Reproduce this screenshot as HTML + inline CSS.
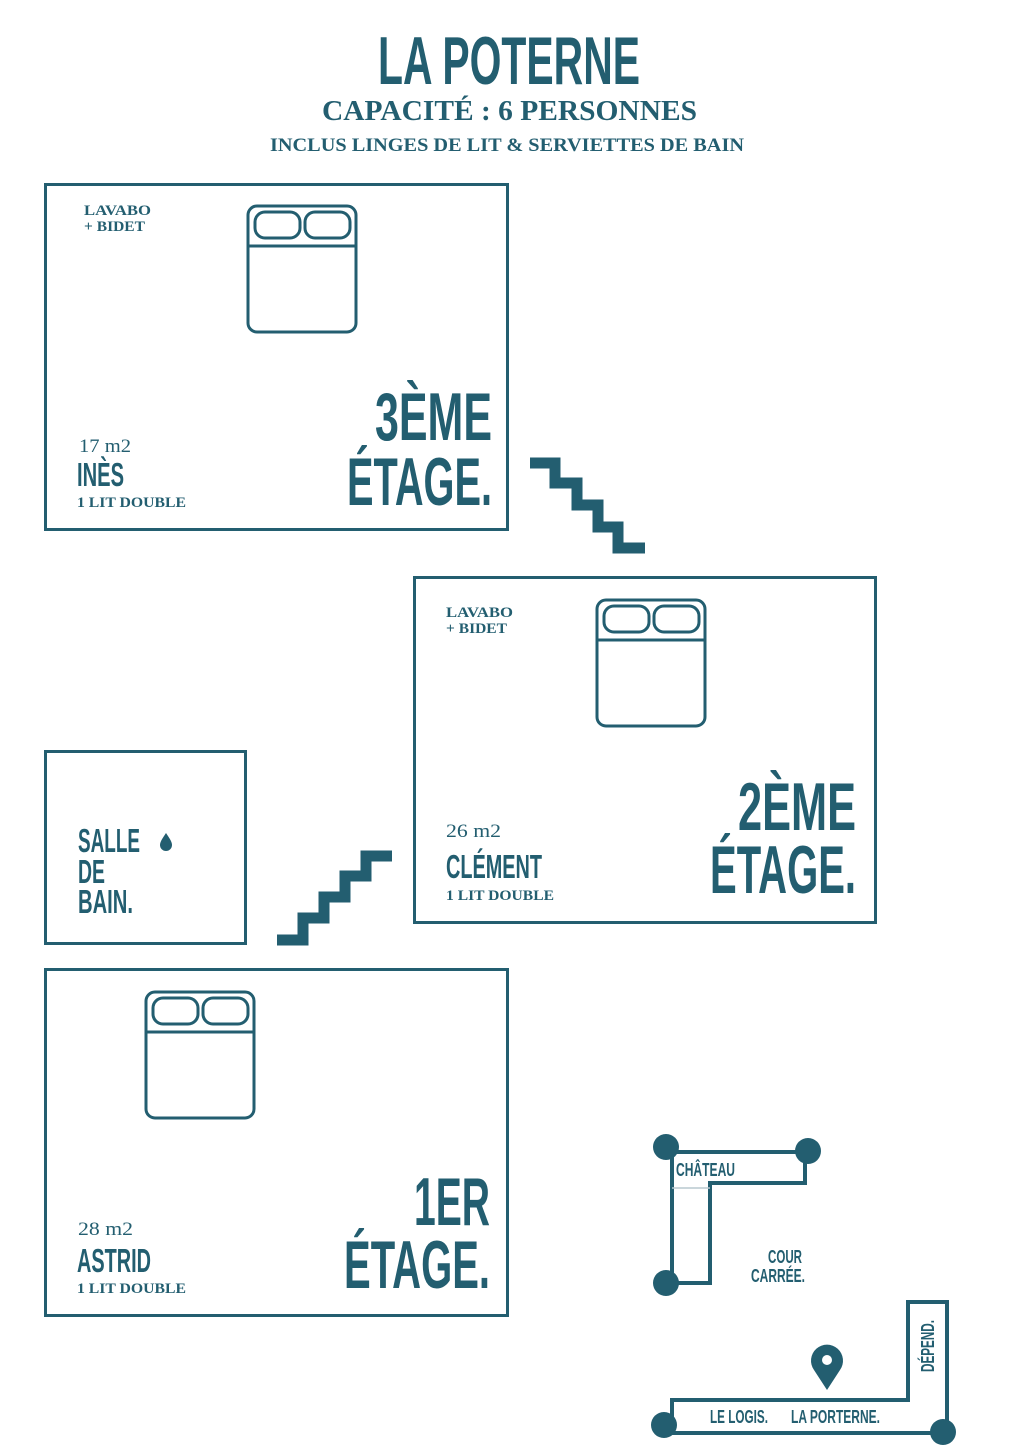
<!DOCTYPE html>
<html><head><meta charset="utf-8"><style>
html,body{margin:0;padding:0;background:#fff}
svg{display:block}
.c{font-family:"Liberation Sans Narrow","Liberation Sans",sans-serif;font-weight:bold;fill:#235e70}
.s{font-family:"Liberation Serif",serif;font-weight:bold;fill:#235e70}
.r{font-family:"Liberation Serif",serif;fill:#235e70}
</style></head><body>
<svg width="1020" height="1451" viewBox="0 0 1020 1451" xmlns="http://www.w3.org/2000/svg">
<text class="c" x="378" y="84" font-size="68" textLength="262" lengthAdjust="spacingAndGlyphs">LA POTERNE</text>
<text class="s" x="322" y="120" font-size="28" textLength="375" lengthAdjust="spacingAndGlyphs">CAPACITÉ : 6 PERSONNES</text>
<text class="s" x="270" y="151" font-size="19" textLength="474" lengthAdjust="spacingAndGlyphs">INCLUS  LINGES DE LIT &amp; SERVIETTES DE BAIN</text>

<g fill="none" stroke="#235e70" stroke-width="3">
<rect x="45.5" y="184.5" width="462" height="345"/>
<rect x="414.5" y="577.5" width="461" height="345"/>
<rect x="45.5" y="751.5" width="200" height="192"/>
<rect x="45.5" y="969.5" width="462" height="346"/>
</g>

<g fill="none" stroke="#235e70" stroke-width="3">
<g transform="translate(248,206)">
<rect x="0" y="0" width="108" height="126" rx="9"/>
<line x1="0" y1="40" x2="108" y2="40"/>
<rect x="7" y="6" width="45" height="26" rx="10"/>
<rect x="57" y="6" width="45" height="26" rx="10"/>
</g>
<g transform="translate(597,600)">
<rect x="0" y="0" width="108" height="126" rx="9"/>
<line x1="0" y1="40" x2="108" y2="40"/>
<rect x="7" y="6" width="45" height="26" rx="10"/>
<rect x="57" y="6" width="45" height="26" rx="10"/>
</g>
<g transform="translate(146,992)">
<rect x="0" y="0" width="108" height="126" rx="9"/>
<line x1="0" y1="40" x2="108" y2="40"/>
<rect x="7" y="6" width="45" height="26" rx="10"/>
<rect x="57" y="6" width="45" height="26" rx="10"/>
</g>
</g>

<g fill="none" stroke="#235e70" stroke-width="11" stroke-linejoin="miter" stroke-linecap="butt">
<path d="M530,463 H555 V483 H577 V505 H598 V527 H618 V548 H645"/>
<path d="M277,940 H303 V918 H324 V897 H345 V876 H366 V856 H392"/>
</g>

<text class="s" x="84" y="215" font-size="15" textLength="67" lengthAdjust="spacingAndGlyphs">LAVABO</text>
<text class="s" x="84" y="231" font-size="15" textLength="61" lengthAdjust="spacingAndGlyphs">+ BIDET</text>
<text class="r" x="79" y="452" font-size="19" textLength="52" lengthAdjust="spacingAndGlyphs">17 m2</text>
<text class="c" x="77" y="486" font-size="33" textLength="47" lengthAdjust="spacingAndGlyphs">INÈS</text>
<text class="s" x="77" y="507" font-size="15" textLength="109" lengthAdjust="spacingAndGlyphs">1 LIT DOUBLE</text>
<text class="c" x="375" y="440" font-size="68" textLength="117" lengthAdjust="spacingAndGlyphs">3ÈME</text>
<text class="c" x="347" y="505" font-size="68" textLength="145" lengthAdjust="spacingAndGlyphs">ÉTAGE.</text>

<text class="s" x="446" y="617" font-size="15" textLength="67" lengthAdjust="spacingAndGlyphs">LAVABO</text>
<text class="s" x="446" y="633" font-size="15" textLength="61" lengthAdjust="spacingAndGlyphs">+ BIDET</text>
<text class="r" x="446" y="837" font-size="19" textLength="55" lengthAdjust="spacingAndGlyphs">26 m2</text>
<text class="c" x="446" y="878" font-size="33" textLength="96" lengthAdjust="spacingAndGlyphs">CLÉMENT</text>
<text class="s" x="446" y="900" font-size="15" textLength="108" lengthAdjust="spacingAndGlyphs">1 LIT DOUBLE</text>
<text class="c" x="738" y="830" font-size="68" textLength="118" lengthAdjust="spacingAndGlyphs">2ÈME</text>
<text class="c" x="710" y="893" font-size="68" textLength="146" lengthAdjust="spacingAndGlyphs">ÉTAGE.</text>

<text class="c" x="78" y="852" font-size="33" textLength="62" lengthAdjust="spacingAndGlyphs">SALLE</text>
<text class="c" x="78" y="883" font-size="33" textLength="27" lengthAdjust="spacingAndGlyphs">DE</text>
<text class="c" x="78" y="913" font-size="33" textLength="55" lengthAdjust="spacingAndGlyphs">BAIN.</text>
<path d="M166,833 C170,839 172,842 172,845 A6,6 0 0 1 160,845 C160,842 162,839 166,833 Z" fill="#235e70"/>

<text class="r" x="78" y="1235" font-size="19" textLength="55" lengthAdjust="spacingAndGlyphs">28 m2</text>
<text class="c" x="77" y="1272" font-size="33" textLength="74" lengthAdjust="spacingAndGlyphs">ASTRID</text>
<text class="s" x="77" y="1293" font-size="15" textLength="109" lengthAdjust="spacingAndGlyphs">1 LIT DOUBLE</text>
<text class="c" x="414" y="1225" font-size="68" textLength="76" lengthAdjust="spacingAndGlyphs">1ER</text>
<text class="c" x="344" y="1288" font-size="68" textLength="146" lengthAdjust="spacingAndGlyphs">ÉTAGE.</text>

<g fill="none" stroke="#235e70" stroke-width="4">
<path d="M672,1152 H805 V1183 H710 V1283 H672 Z"/>
<path d="M672,1400 H908 V1302 H947 V1433 H672 Z"/>
</g>
<line x1="672" y1="1188" x2="710" y2="1188" stroke="#b8c9cf" stroke-width="1.5"/>
<g fill="#235e70">
<circle cx="666" cy="1147" r="13"/>
<circle cx="808" cy="1151" r="13"/>
<circle cx="666" cy="1283" r="13"/>
<circle cx="664" cy="1425" r="13"/>
<circle cx="943" cy="1432" r="13"/>
<path d="M827,1390 L814,1370 A16,16 0 1 1 840,1370 Z"/>
</g>
<circle cx="827" cy="1360" r="5" fill="#fff"/>
<text class="c" x="676" y="1176" font-size="18" textLength="59" lengthAdjust="spacingAndGlyphs">CHÂTEAU</text>
<text class="c" x="768" y="1263" font-size="18" textLength="34" lengthAdjust="spacingAndGlyphs">COUR</text>
<text class="c" x="751" y="1282" font-size="18" textLength="54" lengthAdjust="spacingAndGlyphs">CARRÉE.</text>
<text class="c" x="710" y="1423" font-size="18" textLength="58" lengthAdjust="spacingAndGlyphs">LE LOGIS.</text>
<text class="c" x="791" y="1423" font-size="18" textLength="89" lengthAdjust="spacingAndGlyphs">LA PORTERNE.</text>
<text class="c" transform="translate(934,1372) rotate(-90)" x="0" y="0" font-size="18" textLength="52" lengthAdjust="spacingAndGlyphs">DÉPEND.</text>
</svg>
</body></html>
